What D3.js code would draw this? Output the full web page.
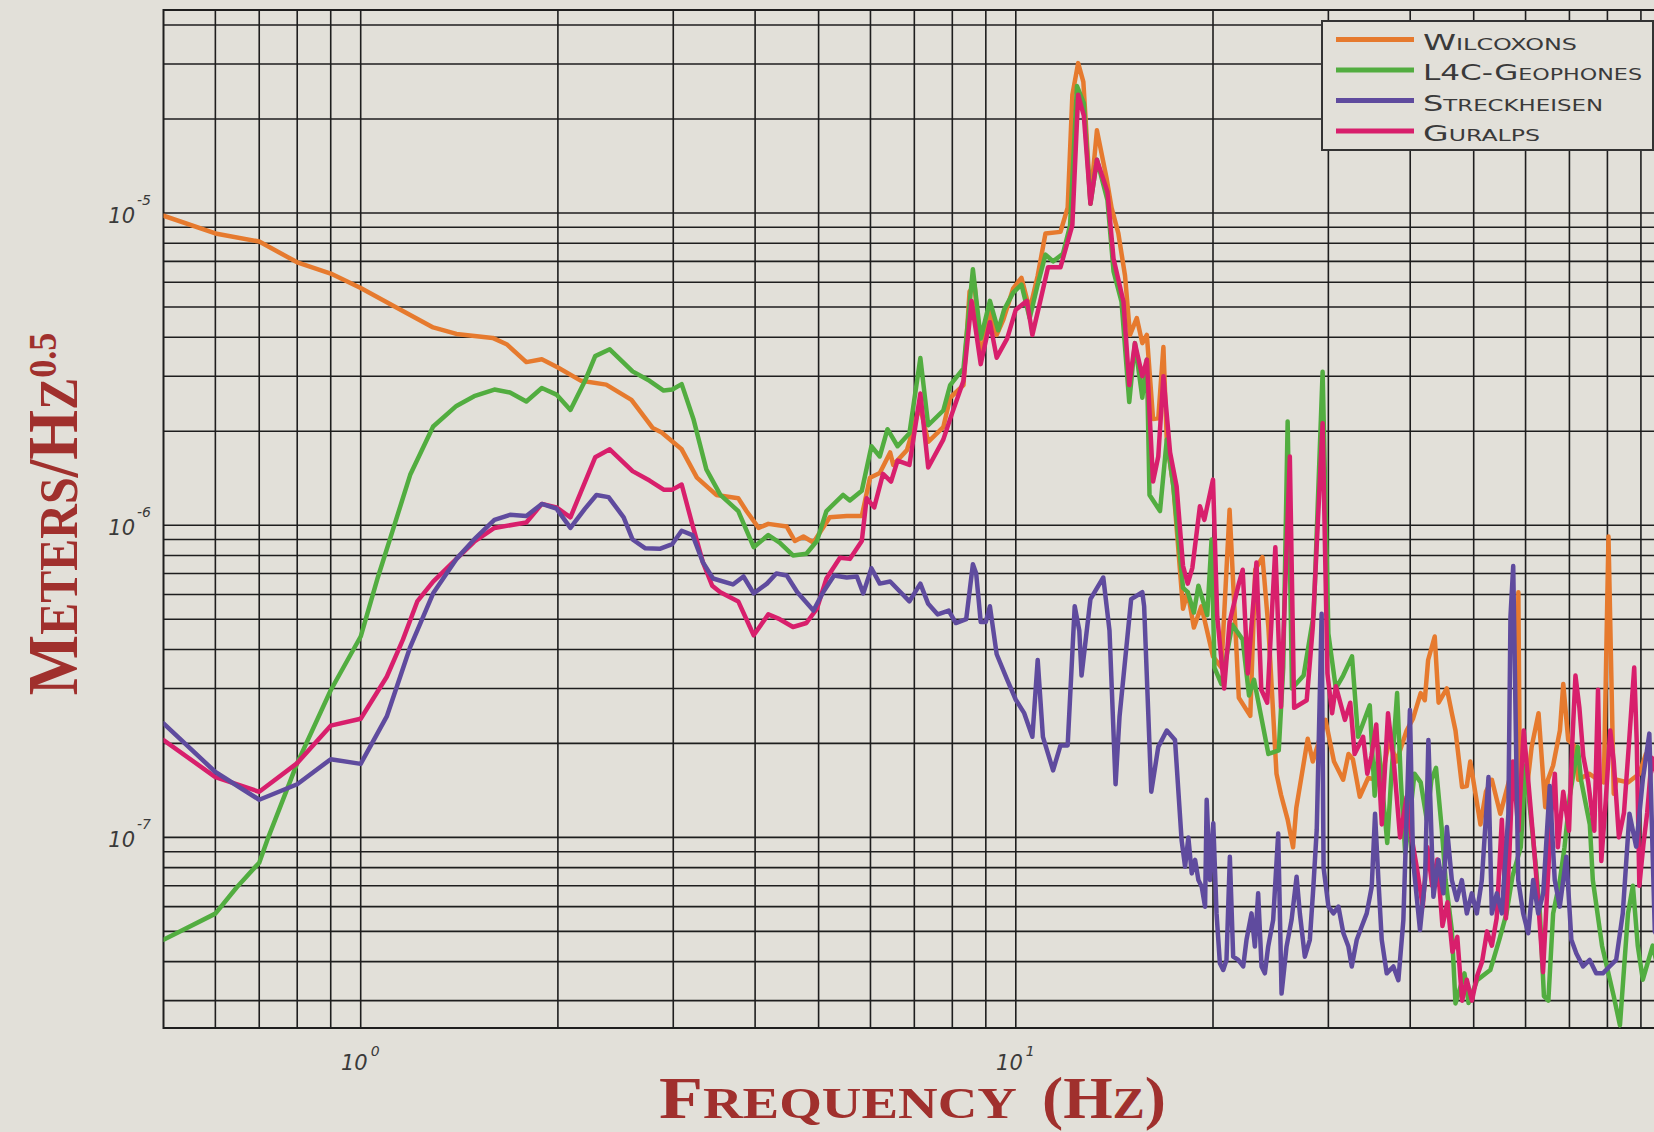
<!DOCTYPE html>
<html>
<head>
<meta charset="utf-8">
<script src="https://cdn.jsdelivr.net/npm/d3@7"></script>
<style>
    body { margin: 0; background: #e2e0d9; }
    svg { display: block; }
</style>
</head>
<body>
<div id="chart"></div>
<script>
// seismometer noise spectra
//``````````````````````````````````````//

let wilcoxFreq = [0.5,0.6,0.7,0.8,0.9,1.0,1.13,1.29,1.4,1.59,1.67,1.79,1.89,2.0,2.17,2.37,2.59,2.79,2.88,3.09,3.26,3.49,3.77,3.88,4.05,4.19,4.47,4.6,4.74,4.91,5.2,5.52,5.82,5.99,6.2,6.43,6.5,6.82,7.14,7.35,7.75,7.94,8.32,8.5,8.65,8.85,9.13,9.35,9.57,9.91,10.2,10.5,10.8,11.1,11.7,12.0,12.2,12.45,12.68,13.0,13.3,13.76,14.0,14.34,14.68,14.94,15.3,15.6,15.85,16.2,16.5,16.8,17.0,17.4,18.0,18.3,18.7,19.2,20.0,20.6,21.2,21.9,22.8,23.2,23.8,24.3,
    25.0,25.4,26.0,26.5,26.8,27.9,28.4,29.7,30.6,31.6,32.2,32.7,33.5,34.5,35.6,36.0,36.8,37.2,38.1,38.6,39.5,40.4,41.5,42.1,42.6,43.6,44.2,45.5,46.3,46.9,48.0,48.8,49.4,51.2,52.2,53.3,54.9,57.0,58.2,58.5,58.8,60.2,61.3,62.8,64.3,64.9,66.1,67.7,68.5,69.7,71.5,72.2,75.0,77.4,79.0,80.3,81.8,82.6,86.0,89.5,91.6,93.8,95.0,98.0]
let wilcoxVal = [9.8e-6,8.6e-6,8.1e-6,6.95e-6,6.4e-6,5.75e-6,5.0e-6,4.3e-6,4.1e-6,3.98e-6,3.8e-6,3.33e-6,3.4e-6,3.2e-6,2.9e-6,2.82e-6,2.52e-6,2.05e-6,1.98e-6,1.75e-6,1.42e-6,1.25e-6,1.22e-6,1.11e-6,9.8e-7,1.01e-6,9.9e-7,8.9e-7,9.2e-7,8.8e-7,1.06e-6,1.07e-6,1.07e-6,1.42e-6,1.47e-6,1.71e-6,1.56e-6,1.74e-6,2.41e-6,1.85e-6,2.06e-6,2.56e-6,2.81e-6,5.6e-6,5.9e-6,3.4e-6,4.9e-6,4.07e-6,4.55e-6,5.74e-6,6.2e-6,4.9e-6,6.3e-6,8.6e-6,8.7e-6,1.04e-5,2.39e-5,3.02e-5,2.63e-5,1.1e-5,1.84e-5,1.29e-5,1.04e-5,8.6e-6,6.3e-6,4.07e-6,4.61e-6,3.83e-6,4.07e-6,2.19e-6,2.2e-6,3.72e-6,1.88e-6,1.33e-6,5.4e-7,6.1e-7,4.7e-7,5.5e-7,3.8e-7,3.5e-7,1.12e-6,2.8e-7,2.45e-7,7.2e-7,7.9e-7,4.7e-7,
    1.6e-7,1.37e-7,1.14e-7,9.3e-8,1.24e-7,2.07e-7,1.75e-7,2.38e-7,1.75e-7,1.53e-7,1.85e-7,1.78e-7,1.35e-7,1.55e-7,1.53e-7,1.45e-7,1.85e-7,2.05e-7,1.75e-7,1.9e-7,2.2e-7,2.4e-7,2.9e-7,2.75e-7,3.7e-7,4.4e-7,2.7e-7,3.0e-7,2.5e-7,2.2e-7,1.45e-7,1.46e-7,1.75e-7,1.1e-7,1.4e-7,1.53e-7,1.19e-7,1.6e-7,1.6e-7,6.1e-7,1.5e-7,1.4e-7,1.95e-7,2.5e-7,1.25e-7,1.53e-7,1.7e-7,2.2e-7,3.1e-7,2.05e-7,1.95e-7,1.53e-7,1.6e-7,1.53e-7,1.5e-7,9.2e-7,1.38e-7,1.53e-7,1.5e-7,1.6e-7,1.85e-7,1.75e-7,1.8e-7,1.5e-7]

let l4cFreq = [0.5,0.6,0.646,0.7,0.72,0.8,0.9,1.0,1.062,1.117,1.19,1.29,1.4,1.49,1.6,1.69,1.79,1.89,1.99,2.09,2.2,2.28,2.4,2.6,2.76,2.9,2.99,3.09,3.22,3.37,3.54,3.77,3.98,4.19,4.36,4.57,4.79,4.97,5.14,5.45,5.58,5.82,6.02,6.2,6.37,6.6,6.88,7.15,7.35,7.75,7.94,8.32,8.6,8.84,9.13,9.4,9.6,9.91,10.2,10.5,10.8,11.1,11.4,11.8,12.1,12.4,12.7,13.0,13.3,13.8,14.1,14.5,14.9,15.2,15.6,15.85,16.0,16.6,17.0,17.4,18.0,18.3,18.7,19.0,19.6,19.9,20.1,20.6,21.4,22.2,22.7,23.1,24.3,25.2,25.6,26.0,26.4,27.5,28.5,
    29.4,30.0,30.8,31.6,32.6,33.3,34.7,35.3,35.8,36.9,37.4,38.2,38.7,39.3,40.0,40.6,41.5,42.4,43.1,43.8,44.7,45.3,46.3,46.9,48.4,49.1,50.6,53.0,54.7,56.1,57.3,59.0,60.0,62.2,63.1,64.0,65.0,66.1,67.7,68.8,70.1,72.1,72.9,75.2,76.0,78.5,81.8,83.6,86.0,87.5,89.0,90.6,93.8,96.5,98.0]
let l4cVal = [4.7e-8,5.7e-8,6.9e-8,8.3e-8,9.8e-8,1.73e-7,2.96e-7,4.4e-7,6.8e-7,9.5e-7,1.45e-6,2.07e-6,2.41e-6,2.59e-6,2.72e-6,2.66e-6,2.49e-6,2.75e-6,2.62e-6,2.34e-6,2.9e-6,3.48e-6,3.66e-6,3.11e-6,2.9e-6,2.7e-6,2.72e-6,2.83e-6,2.19e-6,1.51e-6,1.25e-6,1.11e-6,8.5e-7,9.3e-7,8.8e-7,8.0e-7,8.1e-7,8.9e-7,1.11e-6,1.25e-6,1.2e-6,1.29e-6,1.79e-6,1.66e-6,2.03e-6,1.79e-6,1.97e-6,3.43e-6,2.09e-6,2.33e-6,2.81e-6,3.18e-6,6.6e-6,3.96e-6,5.23e-6,4.21e-6,4.91e-6,5.56e-6,5.9e-6,4.6e-6,5.9e-6,7.36e-6,7.0e-6,7.4e-6,9.1e-6,2.55e-5,2.25e-5,1.07e-5,1.48e-5,1.1e-5,6.5e-6,5.2e-6,2.48e-6,3.83e-6,2.56e-6,3.39e-6,1.25e-6,1.11e-6,1.88e-6,1.33e-6,6.3e-7,6.1e-7,5.25e-7,6.4e-7,5.15e-7,9.0e-7,3.5e-7,3.1e-7,4.8e-7,4.3e-7,2.85e-7,3.2e-7,1.85e-7,1.9e-7,3.5e-7,2.15e-6,3.0e-7,3.3e-7,5.2e-7,
    3.1e-6,4.5e-7,3.0e-7,3.3e-7,3.8e-7,2.1e-7,2.65e-7,1.36e-7,1.95e-7,9.6e-8,1.53e-7,2.9e-7,1.53e-7,8.9e-8,1.19e-7,1.6e-7,1.5e-7,1.14e-7,1.53e-7,1.67e-7,1.06e-7,7.3e-8,5.05e-8,2.94e-8,3.67e-8,2.95e-8,3.49e-8,3.76e-8,4.7e-8,5.7e-8,7.5e-8,9.3e-8,1.7e-7,8.1e-8,5.7e-8,3.1e-8,3.0e-8,5.7e-8,7.3e-8,9.3e-8,1.36e-7,1.95e-7,1.53e-7,1.1e-7,7.3e-8,4.5e-8,3.1e-8,2.5e-8,5.7e-8,7e-8,4.5e-8,3.5e-8,4.5e-8,3.5e-8,3.8e-8]

let streckFreq = [0.5,0.6,0.7,0.8,0.9,1.0,1.096,1.19,1.29,1.4,1.49,1.6,1.69,1.79,1.89,1.99,2.09,2.2,2.29,2.39,2.52,2.6,2.72,2.86,2.99,3.09,3.21,3.33,3.45,3.7,3.84,3.98,4.17,4.31,4.47,4.64,4.91,5.08,5.28,5.52,5.72,5.85,6.02,6.2,6.43,6.67,6.88,7.15,7.35,7.6,7.9,8.1,8.4,8.6,8.7,8.84,9.0,9.13,9.35,9.7,10.0,10.3,10.6,10.8,11.0,11.4,11.7,12.0,12.3,12.5,12.6,13.0,13.6,13.9,14.2,14.4,15.0,15.6,15.7,16.1,16.5,17.0,17.5,
    17.91,18.13,18.34,18.56,18.78,19.0,19.22,19.45,19.56,19.79,20.02,20.25,20.49,20.73,20.97,21.22,21.47,21.85,22.24,22.5,22.9,23.17,23.44,23.72,24.0,24.28,24.71,25.15,25.45,25.9,26.36,26.83,27.14,27.62,28.11,28.46,28.8,29.3,29.5,30.01,30.54,31.08,31.63,32.19,32.57,33.15,33.73,34.33,34.94,35.35,35.77,36.19,36.83,37.7,38.37,39.05,39.96,40.4,41.4,42.14,42.64,43.4,44.17,44.95,45.5,46.3,47.12,47.96,48.81,49.67,50.56,51.45,52.67,53.29,54.24,55.2,56.48,56.9,57.45,58.47,59.5,60.56,61.63,62.73,63.84,65.32,66.48,67.66,69.25,70.48,71.73,73.43,75.17,76.9,78.73,80.6,82.5,84.44,86.44,88.5,90.6,92.7,94.5,97.0,99.0]
let streckVal = [2.32e-7,1.62e-7,1.32e-7,1.48e-7,1.78e-7,1.72e-7,2.44e-7,4.07e-7,6.05e-7,7.8e-7,9.0e-7,1.04e-6,1.08e-6,1.07e-6,1.17e-6,1.13e-6,9.8e-7,1.13e-6,1.25e-6,1.23e-6,1.06e-6,9.0e-7,8.43e-7,8.4e-7,8.7e-7,9.6e-7,9.3e-7,7.6e-7,6.75e-7,6.46e-7,6.85e-7,6.05e-7,6.5e-7,7.0e-7,6.9e-7,6.1e-7,5.33e-7,6.1e-7,6.9e-7,6.8e-7,6.85e-7,6.05e-7,7.28e-7,6.5e-7,6.6e-7,6.1e-7,5.7e-7,6.5e-7,5.6e-7,5.18e-7,5.33e-7,4.86e-7,5.0e-7,7.5e-7,7.0e-7,4.9e-7,4.9e-7,5.5e-7,3.86e-7,3.2e-7,2.76e-7,2.5e-7,2.1e-7,3.7e-7,2.1e-7,1.64e-7,1.97e-7,1.97e-7,5.5e-7,4.6e-7,3.3e-7,5.8e-7,6.8e-7,4.6e-7,1.48e-7,2.44e-7,5.8e-7,6.1e-7,5.5e-7,1.4e-7,1.95e-7,2.2e-7,2.05e-7,
    9.8e-8,8.05e-8,1.0e-7,7.67e-8,8.47e-8,7.3e-8,6.95e-8,6.0e-8,1.32e-7,7.3e-8,1.11e-7,5.71e-8,3.95e-8,3.76e-8,4.05e-8,8.67e-8,4.15e-8,4.05e-8,3.86e-8,4.7e-8,5.71e-8,4.47e-8,6.62e-8,3.86e-8,3.67e-8,4.47e-8,5.44e-8,1.03e-7,3.16e-8,4.47e-8,5.44e-8,7.48e-8,5.71e-8,4.15e-8,4.7e-8,6.95e-8,1.06e-7,5.2e-7,8e-8,6.0e-8,5.71e-8,6.0e-8,4.93e-8,4.47e-8,3.86e-8,4.7e-8,5.18e-8,5.71e-8,6.95e-8,1.19e-7,7.3e-8,4.7e-8,3.67e-8,3.86e-8,3.49e-8,5.44e-8,2.56e-7,8.47e-8,5.05e-8,7.3e-8,2.05e-7,6.46e-8,8.47e-8,6.62e-8,1.08e-7,7.3e-8,6.3e-8,7.3e-8,5.71e-8,6.62e-8,5.71e-8,7.3e-8,1.56e-7,5.71e-8,6.62e-8,5.71e-8,1.19e-7,5.1e-7,7.4e-7,7.3e-8,5.71e-8,4.93e-8,7.3e-8,5.71e-8,6.62e-8,1.46e-7,7.3e-8,6.0e-8,8.67e-8,4.7e-8,4.25e-8,3.86e-8,4.05e-8,3.67e-8,3.67e-8,3.86e-8,4.05e-8,5.71e-8,1.19e-7,9.34e-8,1.53e-7,2.15e-7,5e-8,4.5e-8,5e-8]

let guralpFreq = [0.5,0.6,0.7,0.8,0.9,1.0,1.096,1.16,1.22,1.29,1.4,1.49,1.6,1.79,1.89,1.99,2.09,2.28,2.4,2.6,2.76,2.9,2.99,3.09,3.21,3.33,3.44,3.54,3.77,3.98,4.19,4.36,4.57,4.79,4.97,5.14,5.39,5.58,5.82,5.92,6.08,6.27,6.45,6.6,6.88,7.15,7.35,7.75,7.94,8.32,8.56,8.84,9.13,9.35,9.7,10.0,10.4,10.6,10.9,11.2,11.7,12.2,12.45,12.7,13.0,13.3,13.8,14.1,14.6,14.9,15.2,15.6,15.85,16.2,16.5,16.8,17.2,17.6,18.0,18.3,18.6,19.1,19.4,20.0,20.3,20.8,21.2,21.9,22.2,22.6,23.3,23.7,24.2,24.9,25.4,26.2,26.6,27.8,28.4,29.4,
    29.9,30.4,30.8,31.8,32.4,32.9,33.9,34.4,34.9,35.5,36.2,37.0,37.8,38.6,39.5,40.2,40.9,41.8,42.5,43.2,44.0,44.8,45.6,46.4,47.2,48.0,48.8,49.7,50.6,51.5,52.4,53.3,54.2,55.2,56.0,56.7,57.4,58.5,59.6,60.6,61.8,62.8,63.8,64.8,65.7,66.5,67.2,68.5,69.9,70.7,71.5,72.5,73.5,74.8,76.4,77.4,78.3,79.5,80.8,81.8,83.3,84.8,86.3,87.9,88.7,89.5,90.8,92.0,93.5,95.0,96.5,98.0]
let guralpVal = [2.05e-7,1.56e-7,1.4e-7,1.73e-7,2.28e-7,2.4e-7,3.27e-7,4.3e-7,5.7e-7,6.6e-7,7.8e-7,8.85e-7,9.8e-7,1.02e-6,1.17e-6,1.14e-6,1.06e-6,1.65e-6,1.75e-6,1.49e-6,1.39e-6,1.3e-6,1.3e-6,1.35e-6,1.0e-6,7.6e-7,6.4e-7,6.1e-7,5.7e-7,4.44e-7,5.18e-7,5.0e-7,4.72e-7,4.86e-7,5.4e-7,6.75e-7,7.87e-7,7.8e-7,8.9e-7,1.22e-6,1.14e-6,1.46e-6,1.38e-6,1.61e-6,1.56e-6,2.64e-6,1.53e-6,1.88e-6,2.19e-6,2.9e-6,5.23e-6,3.28e-6,4.47e-6,3.44e-6,3.96e-6,4.9e-6,5.23e-6,4.07e-6,5.23e-6,6.7e-6,6.7e-6,9.15e-6,2.39e-5,2.05e-5,1.07e-5,1.48e-5,1.17e-5,7.13e-6,5.2e-6,2.81e-6,3.83e-6,3.0e-6,3.39e-6,1.38e-6,1.66e-6,3.0e-6,1.71e-6,1.33e-6,7.4e-7,6.5e-7,7.3e-7,1.15e-6,1.04e-6,1.4e-6,5.1e-7,3.0e-7,4.9e-7,6.5e-7,7.2e-7,3.35e-7,7.6e-7,2.97e-7,2.7e-7,8.5e-7,2.62e-7,1.66e-6,2.6e-7,2.75e-7,4.7e-7,2.12e-6,
    3.35e-7,2.5e-7,3.05e-7,2.38e-7,2.7e-7,1.85e-7,2.1e-7,1.6e-7,1.82e-7,2.3e-7,1.1e-7,2.5e-7,1.7e-7,1.0e-7,1.35e-7,1.0e-7,8.1e-8,6.0e-8,9.3e-8,7.0e-8,8.5e-8,5.2e-8,6.2e-8,4.3e-8,4.8e-8,3.0e-8,3.5e-8,3.0e-8,3.6e-8,4.0e-8,5.0e-8,4.5e-8,5.5e-8,1.14e-7,5.5e-8,9e-8,1.75e-7,1.05e-7,2.2e-7,1.5e-7,9.3e-8,6e-8,3.7e-8,7e-8,1.2e-7,1.6e-7,9.3e-8,1.4e-7,1.05e-7,2.0e-7,3.3e-7,2.6e-7,1.82e-7,1.5e-7,1.05e-7,2.97e-7,8.4e-8,1.3e-7,2.2e-7,1.75e-7,1.0e-7,1.2e-7,2.0e-7,3.5e-7,2.0e-7,7e-8,9.5e-8,1.2e-7,1.8e-7,1.6e-7,1.0e-7,1.2e-7]

let seriesNames = ['Wilcoxons', 'L4C-Geophones', 'Streckheisen', 'Guralps']
let seriesColors = ['#e67a2e', '#52ad40', '#5f4b9e', '#d81f6c']
// tick label exponents
let xTickExp = [0, 1]
let yTickExp = [-7, -6, -5]

let series = [
    {name: seriesNames[0], color: seriesColors[0], freq: wilcoxFreq, val: wilcoxVal},
    {name: seriesNames[1], color: seriesColors[1], freq: l4cFreq, val: l4cVal},
    {name: seriesNames[2], color: seriesColors[2], freq: streckFreq, val: streckVal},
    {name: seriesNames[3], color: seriesColors[3], freq: guralpFreq, val: guralpVal}
]
// draw order seen in the picture: orange, green, pink, purple on top
let drawOrder = [0, 1, 3, 2]

let width = 1654, height = 1132
let plot = {left: 163.5, top: 10, right: 1654, bottom: 1028}

let canvas = d3.select('#chart').append('svg')
    .attr('width', width)
    .attr('height', height)
    .style('background', '#e2e0d9')

// log scales, pinned to the decade lines of the original
let xScale = d3.scaleLog().domain([1, 10]).range([360.7, 1015.8])
let yScale = d3.scaleLog().domain([1e-7, 1e-5]).range([837.4, 213])

// grid: every mantissa of every decade that falls inside the frame
let gridX = []
for (let e = -1; e <= 2; e++) for (let m = 1; m <= 9; m++) gridX.push(m * Math.pow(10, e))
gridX = gridX.filter(v => xScale(v) > plot.left + 2 && xScale(v) < plot.right)
let gridY = []
for (let e = -8; e <= -4; e++) for (let m = 1; m <= 9; m++) gridY.push(m * Math.pow(10, e))
gridY = gridY.filter(v => yScale(v) > plot.top + 2 && yScale(v) < plot.bottom - 2)

let grid = canvas.append('g').attr('stroke', '#1e1e1e').attr('stroke-width', 1.6)
grid.selectAll('.gx').data(gridX).enter().append('line')
    .attr('x1', d => xScale(d)).attr('x2', d => xScale(d))
    .attr('y1', plot.top).attr('y2', plot.bottom)
grid.selectAll('.gy').data(gridY).enter().append('line')
    .attr('x1', plot.left).attr('x2', plot.right)
    .attr('y1', d => yScale(d)).attr('y2', d => yScale(d))
// frame (right side is cut off in the original)
grid.append('path')
    .attr('fill', 'none')
    .attr('stroke-width', 2)
    .attr('d', `M${plot.right},${plot.top}H${plot.left}V${plot.bottom}H${plot.right}`)

canvas.append('clipPath').attr('id', 'clip')
    .append('rect')
    .attr('x', plot.left).attr('y', plot.top)
    .attr('width', plot.right - plot.left).attr('height', plot.bottom - plot.top)

let line = d3.line()
    .x(d => xScale(d[0]))
    .y(d => yScale(d[1]))

let lines = canvas.append('g').attr('clip-path', 'url(#clip)')
drawOrder.forEach(i => {
    let s = series[i]
    lines.append('path')
        .datum(d3.zip(s.freq, s.val))
        .attr('fill', 'none')
        .attr('stroke', s.color)
        .attr('stroke-width', 4.5)
        .attr('stroke-linejoin', 'round')
        .attr('stroke-linecap', 'round')
        .attr('d', line)
})

// tick labels, 10 with a raised exponent
let tickFont = '"DejaVu Sans", sans-serif'
xTickExp.forEach(e => {
    let v = Math.pow(10, e)
    canvas.append('text')
        .attr('x', xScale(v) + 7).attr('y', 1070)
        .attr('text-anchor', 'end')
        .style('font-family', tickFont).style('font-size', '21px')
        .style('font-style', 'italic').style('fill', '#3a3a3a')
        .text('10')
    canvas.append('text')
        .attr('x', xScale(v) + 10).attr('y', 1056)
        .style('font-family', tickFont).style('font-size', '14px')
        .style('font-style', 'italic').style('fill', '#3a3a3a')
        .text(e)
})
yTickExp.forEach(e => {
    let v = Math.pow(10, e)
    canvas.append('text')
        .attr('x', 135).attr('y', yScale(v) + 10)
        .attr('text-anchor', 'end')
        .style('font-family', tickFont).style('font-size', '21px')
        .style('font-style', 'italic').style('fill', '#3a3a3a')
        .text('10')
    canvas.append('text')
        .attr('x', 137).attr('y', yScale(v) - 8)
        .style('font-family', tickFont).style('font-size', '14px')
        .style('font-style', 'italic').style('fill', '#3a3a3a')
        .text(e)
})

// axis titles in red small caps
let titleColor = '#a0302d'
let titleFont = '"Liberation Serif", "Times New Roman", serif'

// the original face is wider than Times, so stretch to the measured widths
let xTitle = canvas.append('text')
    .attr('x', 659).attr('y', 1118)
    .attr('textLength', 358)
    .attr('lengthAdjust', 'spacingAndGlyphs')
    .style('font-family', titleFont).style('font-weight', 'bold')
    .style('fill', titleColor)
xTitle.append('tspan').style('font-size', '59px').text('F')
xTitle.append('tspan').style('font-size', '45px').text('REQUENCY')

let xTitleUnit = canvas.append('text')
    .attr('x', 1042).attr('y', 1118)
    .attr('textLength', 124)
    .attr('lengthAdjust', 'spacingAndGlyphs')
    .style('font-family', titleFont).style('font-weight', 'bold')
    .style('fill', titleColor)
xTitleUnit.append('tspan').style('font-size', '59px').text('(H')
xTitleUnit.append('tspan').style('font-size', '45px').text('Z')
xTitleUnit.append('tspan').style('font-size', '59px').text(')')

let yTitle = canvas.append('text')
    .attr('transform', 'translate(77,514) rotate(-90) scale(1.0,1.13)')
    .attr('text-anchor', 'middle')
    .style('font-family', titleFont).style('font-weight', 'bold')
    .style('fill', titleColor)
yTitle.append('tspan').style('font-size', '64px').text('M')
yTitle.append('tspan').style('font-size', '48px').text('ETERS')
yTitle.append('tspan').style('font-size', '64px').text('/H')
yTitle.append('tspan').style('font-size', '48px').text('Z')
yTitle.append('tspan').attr('dy', -19).style('font-size', '36px').text('0.5')

// legend box, top right
let legend = canvas.append('g')
legend.append('rect')
    .attr('x', 1322).attr('y', 21)
    .attr('width', 331).attr('height', 129)
    .attr('fill', '#e2e0d9')
    .attr('stroke', '#333').attr('stroke-width', 2)
let legendRowY = d3.scalePoint().domain(seriesNames).range([39.5, 131])
let legendWidths = [154, 219, 180, 117]
series.forEach((s, i) => {
    let yy = legendRowY(s.name)
    legend.append('line')
        .attr('x1', 1336).attr('x2', 1414)
        .attr('y1', yy).attr('y2', yy)
        .attr('stroke', s.color).attr('stroke-width', 5)
    legend.append('text')
        .attr('x', 1423).attr('y', yy + 10)
        .attr('textLength', legendWidths[i])
        .attr('lengthAdjust', 'spacingAndGlyphs')
        .style('font-family', tickFont).style('font-size', '21px')
        .style('font-variant', 'small-caps')
        .style('fill', '#3a3a3a')
        .text(s.name)
})
</script>
</body>
</html>
